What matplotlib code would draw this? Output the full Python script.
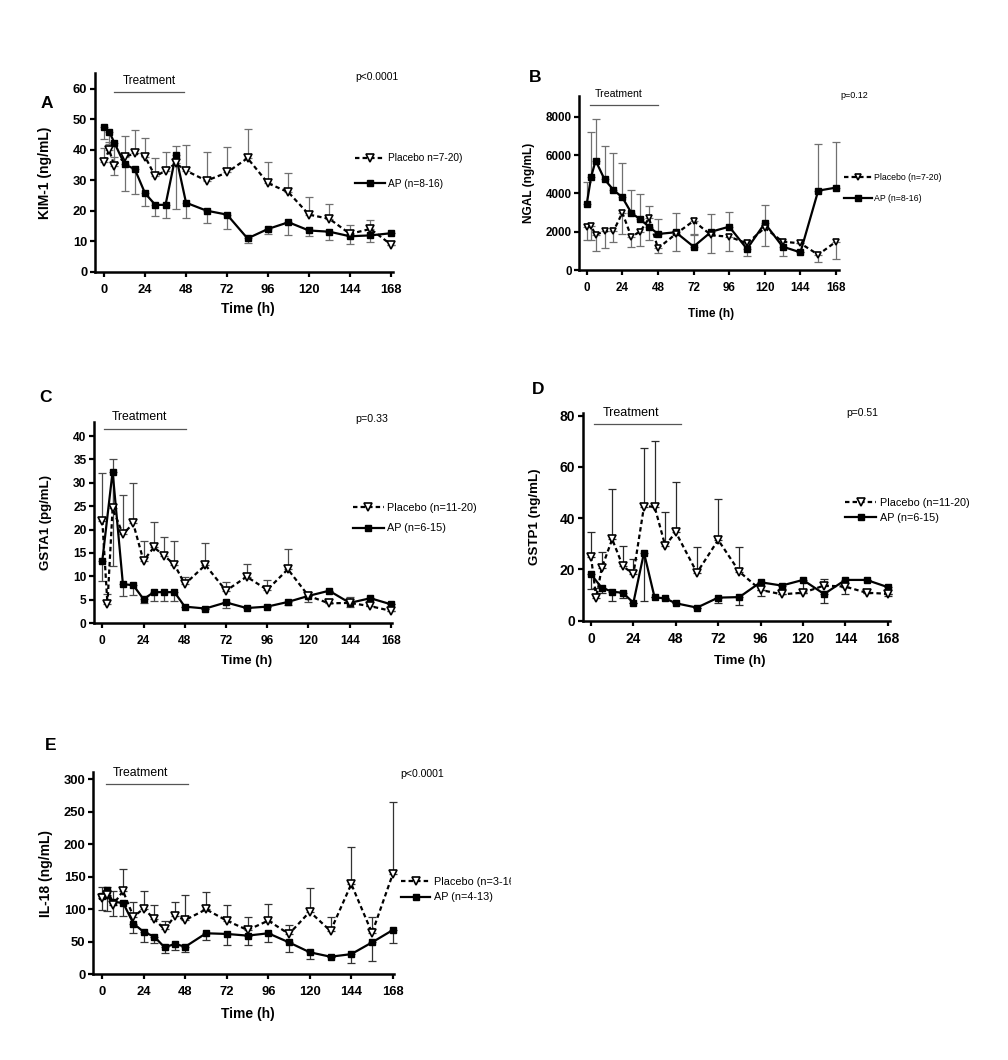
import matplotlib
matplotlib.use("Agg")
import matplotlib.pyplot as plt
import numpy as np
from matplotlib.transforms import Bbox, TransformedBbox

plt.rcParams['font.family'] = ['Liberation Sans', 'DejaVu Sans']

# ---------------- DATA ----------------
times = [0, 3, 6, 12, 18, 24, 30, 36, 42, 48, 60, 72, 84, 96, 108, 120, 132, 144, 156, 168]
times_no3 = [0, 6, 12, 18, 24, 30, 36, 42, 48, 60, 72, 84, 96, 108, 120, 132, 144, 156, 168]
x_ticks = [0, 24, 48, 72, 96, 120, 144, 168]

# A: KIM-1
kim_placebo = [36.2, 40.0, 34.8, 37.6, 38.9, 37.8, 31.3, 33.2, 35.6, 33.2, 29.9, 32.6, 37.3, 29.1, 26.1, 18.8, 17.4, 12.5, 14.1, 9.0]
kim_placebo_err = [4.3, 2.5, 3.0, 6.8, 7.6, 6.0, 6.0, 6.2, 5.8, 8.4, 9.5, 8.5, 9.7, 6.9, 6.4, 5.7, 4.8, 3.0, 2.9, 0]
kim_ap = [47.5, 46.0, 42.4, 35.3, 33.7, 25.8, 22.0, 22.0, 38.3, 22.7, 20.1, 18.8, 11.0, 14.1, 16.3, 13.6, 13.2, 11.7, 12.0, 12.7]
kim_ap_err = [4, 4, 10.6, 8.7, 8.2, 4.1, 3.6, 4.4, 17.6, 5.1, 4.1, 4.7, 1.6, 1.6, 4.3, 1.9, 2.6, 2.5, 2.3, 0]

# B: NGAL
ngal_placebo = [2240, 2280, 1840, 2020, 2020, 2990, 1740, 2000, 2700, 1130, 1880, 2560, 1810, 1740, 1390, 2200, 1480, 1390, 800, 1480]
ngal_placebo_err = [674, 714, 831, 854, 541, 1112, 523, 747, 1134, 260, 888, 682, 910, 731, 659, 950, 749, 0, 400, 923]
ngal_ap = [3440, 4870, 5710, 4730, 4180, 3790, 2990, 2640, 2260, 1880, 1970, 1220, 2000, 2260, 1100, 2440, 1220, 920, 4140, 4300]
ngal_ap_err = [1170, 2315, 2150, 1760, 1910, 1810, 1185, 1310, 1080, 780, 1020, 600, 904, 784, 300, 950, 300, 0, 2420, 2400]

# C: GSTA1
gsta_placebo = [21.9, 4.1, 24.5, 19.0, 21.3, 13.3, 16.2, 14.4, 12.5, 8.3, 12.4, 6.9, 9.9, 7.1, 11.5, 5.8, 4.2, 4.3, 3.6, 2.6]
gsta_placebo_err = [10.2, 2.0, 10.6, 8.4, 8.6, 4.3, 5.5, 4.1, 5.1, 1.5, 4.8, 1.8, 2.7, 2.0, 4.4, 0.9, 0, 1.3, 0, 0]
gsta_ap = [13.3, 32.4, 8.3, 8.1, 5.1, 6.6, 6.6, 6.6, 3.5, 3.1, 4.4, 3.2, 3.5, 4.5, 5.8, 6.9, 4.3, 5.3, 4.0]
gsta_ap_err = [4.3, 20.2, 2.5, 2.2, 0.9, 2.0, 2.0, 2.0, 0, 0, 1.2, 0, 0, 0.6, 1.3, 0, 0.8, 0, 0]

# D: GSTP1
gstp_placebo = [25.0, 8.7, 20.4, 31.8, 21.3, 18.2, 44.5, 44.5, 29.3, 34.5, 18.7, 31.5, 19.1, 12.0, 10.3, 10.9, 13.7, 13.3, 10.9, 10.5]
gstp_placebo_err = [9.7, 4.0, 6.3, 19.5, 7.9, 5.9, 23.0, 25.4, 13.2, 19.7, 9.9, 15.8, 9.5, 0, 0, 0, 2.4, 0, 0, 0]
gstp_ap = [18.1, 12.9, 11.3, 10.9, 7.0, 26.5, 9.1, 8.7, 6.8, 5.1, 9.0, 9.2, 15.0, 13.7, 15.9, 10.4, 15.9, 15.9, 13.1]
gstp_ap_err = [5.7, 2.2, 3.5, 1.9, 0, 18.8, 0, 0, 0, 0, 2.0, 3.1, 5.4, 1.5, 4.0, 3.4, 5.4, 0, 3.5]

# E: IL-18
il18_placebo = [117, 122, 106, 128, 88.5, 101, 85, 69, 89.6, 83.4, 99.8, 82.4, 68, 82.4, 61.9, 96.2, 66.5, 138.7, 63.4, 154]
il18_placebo_err = [17.6, 12, 22, 33, 23, 27.4, 21, 13.4, 21.9, 38.4, 27.2, 24, 20.5, 25.6, 13.8, 35.8, 22, 57.3, 25.1, 110]
il18_ap = [120, 129, 111, 110, 78, 65, 58, 41.5, 46.6, 42.4, 63, 62, 59.4, 63, 49, 33.8, 27, 31, 49, 68]
il18_ap_err = [21, 32, 21, 21, 14, 15.5, 9.4, 9.5, 9.6, 7.7, 10.3, 17, 14.4, 12.7, 14, 10.3, 0, 13.2, 28.6, 20.4]

# ---------------- FIGURE ----------------
W, H = 1008, 1060
fig = plt.figure(figsize=(W / 100, H / 100), dpi=100)


def fx(x):
    return x / W


def fy(y):
    return 1 - y / H


panels = [
    dict(letter='A', letter_xy=(47, 103), box=(95, 73, 393, 272), xlim=(-5.3, 169.2), ylim=(0, 65.2),
         yticks=[0, 10, 20, 30, 40, 50, 60], ylabel='KIM-1 (ng/mL)', tick_fs=9.3, lab_fs=10,
         ylab_x=52, xlab_top=302,
         tp=times, pv=kim_placebo, pe=kim_placebo_err, ta=times, av=kim_ap, ae=kim_ap_err,
         placebo_up=True, plabel='Placebo n=7-20)', alabel='AP (n=8-16)',
         treat=(6, 47, 59), treat_txt=(26.3, 62.6), treat_fs=8.5,
         p='p<0.0001', p_xy=(355, 77), p_fs=7.4,
         leg_x=355, leg_y1=159, leg_gap=27, leg_fs=7.3, hl=3.0, htp=0.3,
         ecol='#707070', ms_sq=4.8, ms_tri=5.6),
    dict(letter='B', letter_xy=(535, 77), box=(579.3, 96, 839, 270), xlim=(-5, 170), ylim=(0, 9080),
         yticks=[0, 2000, 4000, 6000, 8000], ylabel='NGAL (ng/mL)', tick_fs=8.4, lab_fs=8.6,
         ylab_x=535, xlab_top=308,
         tp=times, pv=ngal_placebo, pe=ngal_placebo_err, ta=times, av=ngal_ap, ae=ngal_ap_err,
         placebo_up=False, plabel='Placebo (n=7-20)', alabel='AP (n=8-16)',
         treat=(2.2, 47.8, 8595), treat_txt=(21.8, 9185), treat_fs=7.6,
         p='p=0.12', p_xy=(840.7, 95), p_fs=6.5,
         leg_x=844, leg_y1=177.7, leg_gap=22.3, leg_fs=6.3, hl=3.2, htp=0.25,
         ecol='#707070', ms_sq=4.3, ms_tri=5.0),
    dict(letter='C', letter_xy=(46, 397), box=(94.3, 421.7, 392, 623), xlim=(-4.65, 168.6), ylim=(0, 43.06),
         yticks=[0, 5, 10, 15, 20, 25, 30, 35, 40], ylabel='GSTA1 (pg/mL)', tick_fs=8.6, lab_fs=9.5,
         ylab_x=52.3, xlab_top=655,
         tp=times, pv=gsta_placebo, pe=gsta_placebo_err, ta=times_no3, av=gsta_ap, ae=gsta_ap_err,
         placebo_up=True, plabel='Placebo (n=11-20)', alabel='AP (n=6-15)',
         treat=(1, 48.7, 41.4), treat_txt=(21.9, 44.0), treat_fs=8.8,
         p='p=0.33', p_xy=(355.7, 419), p_fs=7.7,
         leg_x=352.7, leg_y1=509.3, leg_gap=22.7, leg_fs=7.8, hl=2.85, htp=0.3,
         ecol='#4a4a4a', ms_sq=4.8, ms_tri=5.6),
    dict(letter='D', letter_xy=(538, 390), box=(582.7, 413, 890, 620.7), xlim=(-4.7, 169.3), ylim=(0, 81),
         yticks=[0, 20, 40, 60, 80], ylabel='GSTP1 (ng/mL)', tick_fs=10, lab_fs=9.6,
         ylab_x=540.7, xlab_top=655,
         tp=times, pv=gstp_placebo, pe=gstp_placebo_err, ta=times_no3, av=gstp_ap, ae=gstp_ap_err,
         placebo_up=True, plabel='Placebo (n=11-20)', alabel='AP (n=6-15)',
         treat=(1.7, 51, 76.6), treat_txt=(22.5, 80.9), treat_fs=9,
         p='p=0.51', p_xy=(846.7, 413.3), p_fs=7.5,
         leg_x=845, leg_y1=504, leg_gap=17.3, leg_fs=7.8, hl=2.9, htp=0.3,
         ecol='#2a2a2a', ms_sq=4.6, ms_tri=5.4),
    dict(letter='E', letter_xy=(51, 745), box=(93.3, 772.3, 394, 974.3), xlim=(-5.2, 168.7), ylim=(0, 310.3),
         yticks=[0, 50, 100, 150, 200, 250, 300], ylabel='IL-18 (ng/mL)', tick_fs=9.4, lab_fs=10,
         ylab_x=53.3, xlab_top=1007,
         tp=times, pv=il18_placebo, pe=il18_placebo_err, ta=times, av=il18_ap, ae=il18_ap_err,
         placebo_up=True, plabel='Placebo (n=3-16)', alabel='AP (n=4-13)',
         treat=(2.1, 49.6, 292), treat_txt=(21.8, 308.8), treat_fs=8.8,
         p='p<0.0001', p_xy=(400.7, 774.3), p_fs=7.6,
         leg_x=400.7, leg_y1=883.3, leg_gap=17.7, leg_fs=7.8, hl=2.75, htp=0.35,
         ecol='#333333', ms_sq=4.4, ms_tri=5.4, clip_x=511),
]

for P in panels:
    l, t, r, b = P['box']
    ax = fig.add_axes([fx(l), fy(b), fx(r - l), (b - t) / H])
    ax.set_xlim(*P['xlim'])
    ax.set_ylim(*P['ylim'])
    for s in ['top', 'right']:
        ax.spines[s].set_visible(False)
    for s in ['left', 'bottom']:
        ax.spines[s].set_linewidth(1.8)
    ax.set_xticks(x_ticks)
    ax.set_yticks(P['yticks'])
    ax.tick_params(axis='both', direction='out', length=3.8, width=1.6, labelsize=P['tick_fs'])
    ax.tick_params(axis='x', pad=4.5)
    ax.tick_params(axis='y', pad=1.8)
    for lbl in ax.get_xticklabels() + ax.get_yticklabels():
        lbl.set_fontweight('bold')

    # error bars
    pv = np.array(P['pv'], float)
    pe = np.array(P['pe'], float)
    av = np.array(P['av'], float)
    ae = np.array(P['ae'], float)
    z_p = np.zeros_like(pe)
    z_a = np.zeros_like(ae)
    if P['placebo_up']:
        perr = [z_p, pe]
        aerr = [ae, z_a]
    else:
        perr = [pe, z_p]
        aerr = [z_a, ae]
    ax.errorbar(P['ta'], av, yerr=aerr, fmt='none', ecolor=P['ecol'], elinewidth=0.9,
                capsize=2.6, capthick=0.9, zorder=2, clip_on=False)
    ax.errorbar(P['tp'], pv, yerr=perr, fmt='none', ecolor=P['ecol'], elinewidth=0.9,
                capsize=2.6, capthick=0.9, zorder=2, clip_on=False)

    la, = ax.plot(P['ta'], av, '-', color='black', lw=1.6, marker='s', ms=P['ms_sq'],
                  mfc='black', mec='black', zorder=3, label=P['alabel'], clip_on=False)
    lp, = ax.plot(P['tp'], pv, color='black', lw=1.6, linestyle=(0, (2.0, 1.4)), marker='v',
                  ms=P['ms_tri'], mfc='white', mec='black', mew=1.2, zorder=4,
                  label=P['plabel'], clip_on=False)

    # treatment bar
    t0, t1, ty = P['treat']
    ax.plot([t0, t1], [ty, ty], color='#555555', lw=0.9, clip_on=False)
    ax.text(P['treat_txt'][0], P['treat_txt'][1], 'Treatment', ha='center', va='center',
            fontsize=P['treat_fs'], clip_on=False)

    # labels
    ax.set_ylabel(P['ylabel'], fontsize=P['lab_fs'], fontweight='bold')
    ax.yaxis.set_label_coords((P['ylab_x'] - l) / (r - l), 0.5)
    ax.set_xlabel('Time (h)', fontsize=P['lab_fs'], fontweight='bold')
    xmid = (84 - P['xlim'][0]) / (P['xlim'][1] - P['xlim'][0])
    ax.xaxis.set_label_coords(xmid, -(P['xlab_top'] - b) / (b - t))

    # p value and letter
    fig.text(fx(P['p_xy'][0]), fy(P['p_xy'][1]), P['p'], ha='left', va='center', fontsize=P['p_fs'])
    fig.text(fx(P['letter_xy'][0]), fy(P['letter_xy'][1]), P['letter'], ha='center', va='center',
             fontsize=12.5, fontweight='bold')

    # legend
    fs_px = P['leg_fs'] * 100 / 72
    ls = (P['leg_gap'] - 1.15 * fs_px) / fs_px
    top = P['leg_y1'] - 0.575 * fs_px
    leg = ax.legend(handles=[lp, la], loc='upper left',
                    bbox_to_anchor=(fx(P['leg_x']), fy(top)), bbox_transform=fig.transFigure,
                    frameon=False, fontsize=P['leg_fs'], borderpad=0, borderaxespad=0,
                    handlelength=P['hl'], handletextpad=P['htp'], labelspacing=ls, numpoints=1)
    if 'clip_x' in P:
        cb = TransformedBbox(Bbox([[0, 0], [fx(P['clip_x']), 1]]), fig.transFigure)
        for txt in leg.get_texts():
            txt.set_clip_box(cb)
            txt.set_clip_on(True)

fig.savefig('out.png', dpi=100, facecolor='white')
